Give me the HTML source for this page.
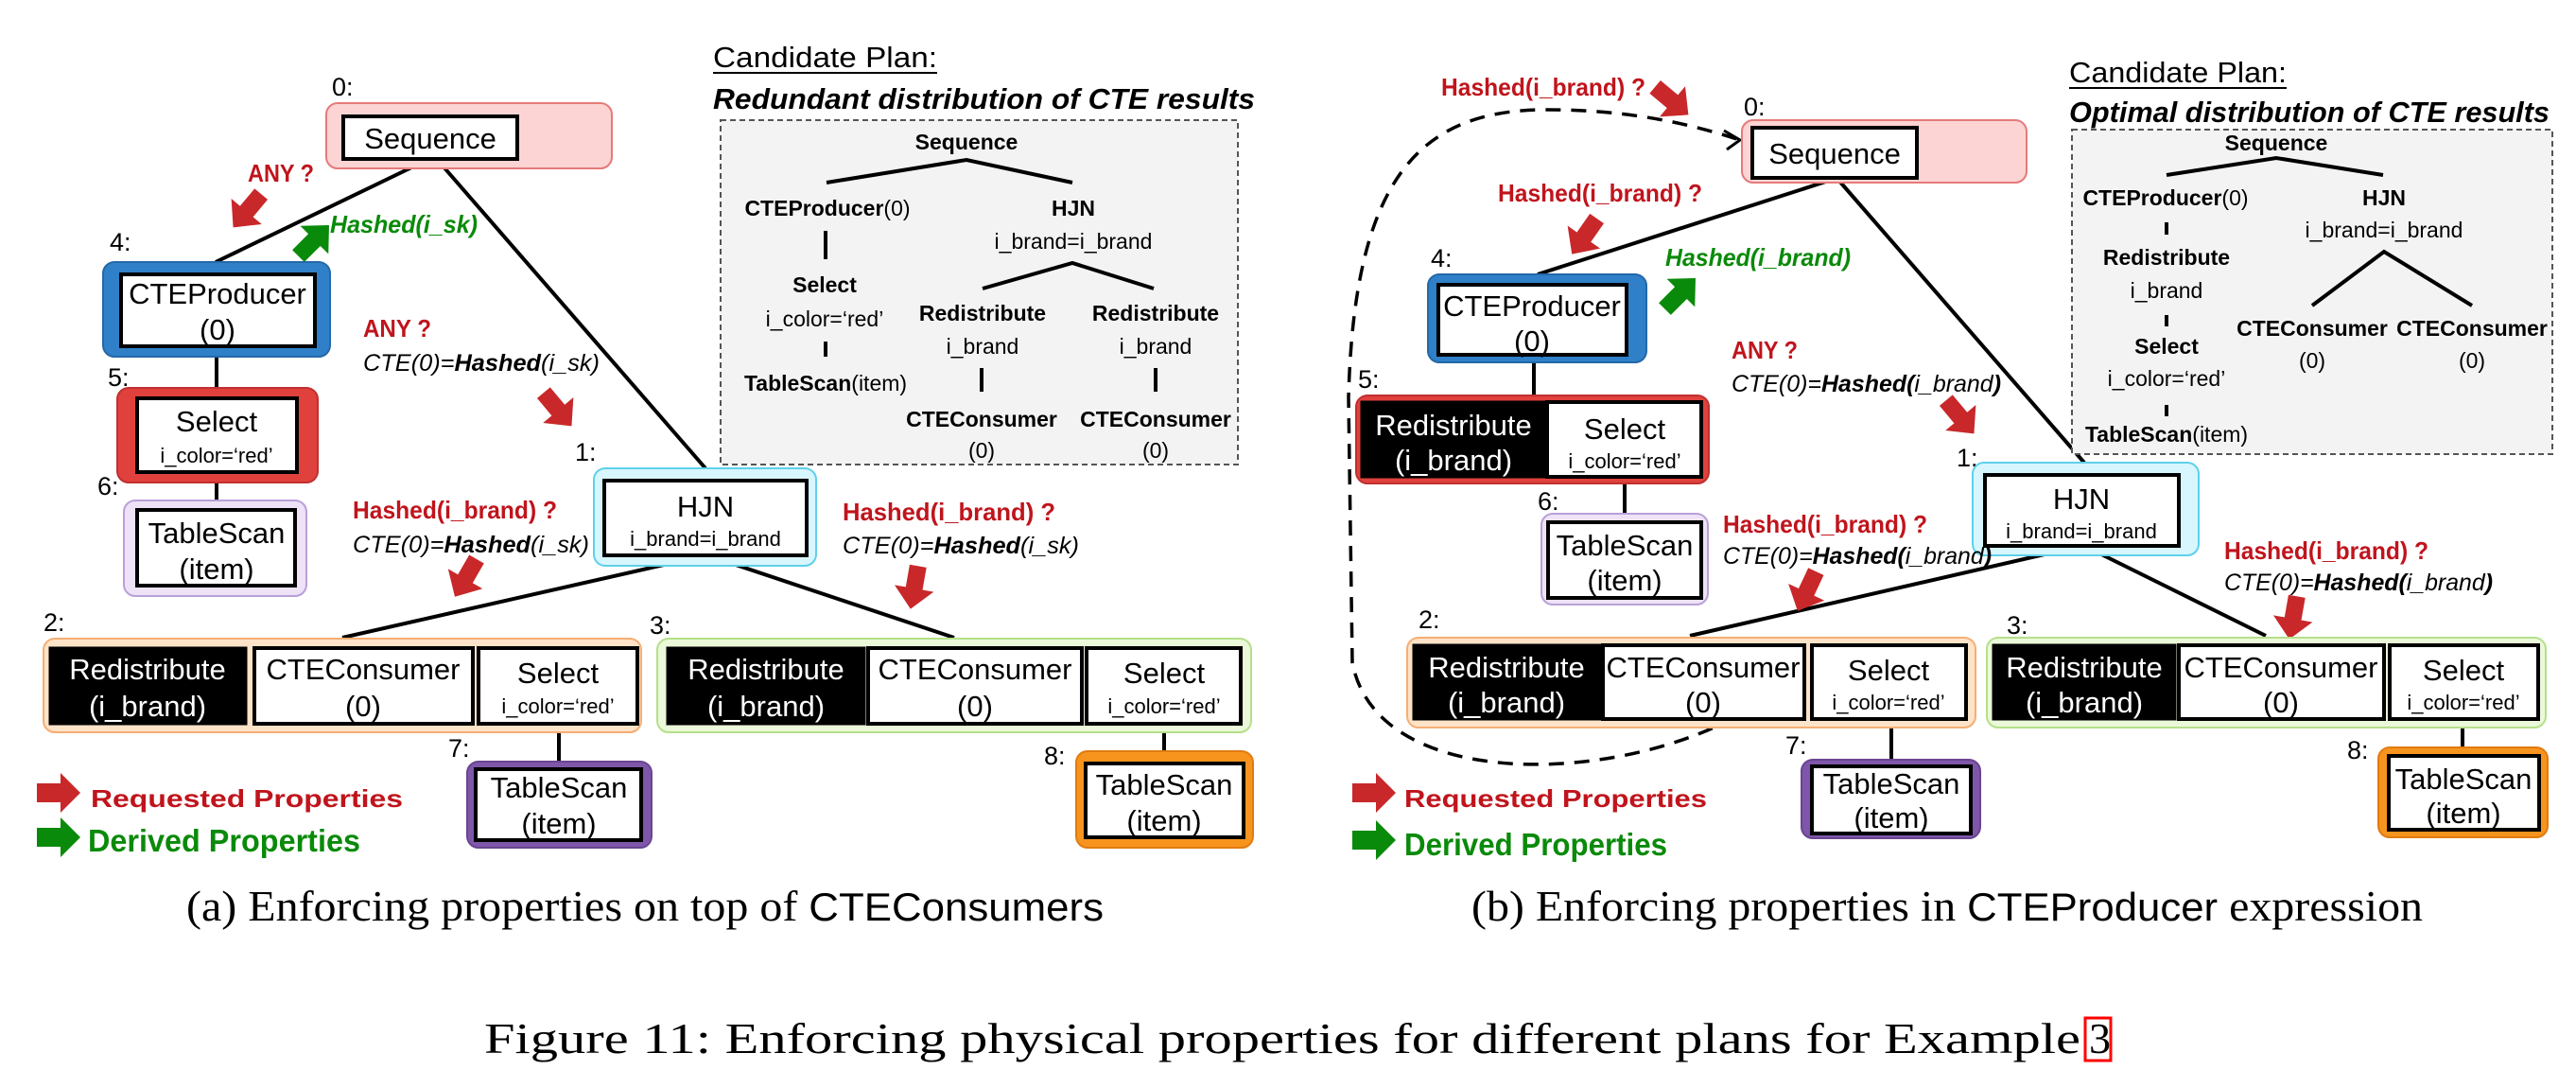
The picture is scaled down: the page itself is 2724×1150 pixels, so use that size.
<!DOCTYPE html>
<html><head><meta charset="utf-8"><style>
html,body{margin:0;padding:0;background:#fff;}
svg{display:block;}
.n{font-family:"Liberation Sans",sans-serif;font-size:31px;fill:#000;text-anchor:middle;}
.ns{font-family:"Liberation Sans",sans-serif;font-size:22px;fill:#000;text-anchor:middle;}
.w{fill:#fff;}
.lb{font-family:"Liberation Sans",sans-serif;font-size:27px;fill:#000;}
.rq{font-family:"Liberation Sans",sans-serif;font-size:26px;font-weight:bold;fill:#c0141c;}
.ct{font-family:"Liberation Sans",sans-serif;font-size:25px;font-style:italic;fill:#000;}
.gr{font-family:"Liberation Sans",sans-serif;font-size:26px;font-weight:bold;font-style:italic;fill:#0a8a0a;}
.cp{font-family:"Liberation Sans",sans-serif;font-size:23px;fill:#000;text-anchor:middle;}
.cpb{font-family:"Liberation Sans",sans-serif;font-size:23px;font-weight:bold;fill:#000;text-anchor:middle;}
.cap{font-family:"Liberation Serif",serif;font-size:46px;fill:#000;}
.ib{fill:#fff;stroke:#000;stroke-width:4;}
.bk{fill:#000;stroke:#000;stroke-width:3;}
.ln{stroke:#000;stroke-width:4;fill:none;}
</style></head><body>
<svg width="2724" height="1150" viewBox="0 0 2724 1150" xmlns="http://www.w3.org/2000/svg">
<defs>
<polygon id="arr" points="-22,-9 2,-9 2,-21 24,0 2,21 2,9 -22,9"/>
<polygon id="larr" points="-23,-10 2,-10 2,-21 23,0 2,21 2,10 -23,10"/>
</defs>

<!-- ================= PANEL A ================= -->
<line class="ln" x1="458" y1="166" x2="228" y2="277"/>
<line class="ln" x1="460" y1="166" x2="746" y2="495"/>
<line class="ln" x1="229" y1="366" x2="229" y2="410"/>
<line class="ln" x1="229" y1="499" x2="229" y2="529"/>
<line class="ln" x1="746" y1="587" x2="362" y2="674"/>
<line class="ln" x1="748" y1="587" x2="1009" y2="674"/>
<line class="ln" x1="591" y1="765" x2="591" y2="807"/>
<line class="ln" x1="1231" y1="765" x2="1231" y2="794"/>

<text class="lb" x="351" y="101">0:</text>
<rect x="345" y="109" width="302" height="69" rx="12" fill="#fcd4d4" stroke="#e57a7a" stroke-width="2"/>
<rect class="ib" x="363" y="123" width="184" height="45"/>
<text class="n" x="455" y="157">Sequence</text>

<text class="rq" x="262" y="192" textLength="70" lengthAdjust="spacingAndGlyphs">ANY ?</text>
<use href="#arr" fill="#c8282a" transform="translate(262,222) rotate(130)"/>
<text class="gr" x="349" y="246" textLength="156" lengthAdjust="spacingAndGlyphs">Hashed(i_sk)</text>
<use href="#arr" fill="#0a8a0a" transform="translate(331,255) rotate(-45)"/>

<text class="lb" x="116" y="265">4:</text>
<rect x="109" y="277" width="240" height="100" rx="12" fill="#2f80c8" stroke="#2468a8" stroke-width="2"/>
<rect class="ib" x="128" y="290" width="205" height="76"/>
<text class="n" x="230" y="321">CTEProducer</text>
<text class="n" x="230" y="359">(0)</text>

<text class="lb" x="114" y="408">5:</text>
<rect x="124" y="410" width="212" height="100" rx="12" fill="#e0413c" stroke="#c03030" stroke-width="2"/>
<rect class="ib" x="145" y="421" width="169" height="78"/>
<text class="n" x="229" y="456">Select</text>
<text class="ns" x="229" y="489">i_color=‘red’</text>

<text class="lb" x="103" y="523">6:</text>
<rect x="131" y="529" width="193" height="101" rx="12" fill="#ede2f6" stroke="#b9a0d8" stroke-width="2"/>
<rect class="ib" x="145" y="539" width="167" height="80"/>
<text class="n" x="229" y="574">TableScan</text>
<text class="n" x="229" y="612">(item)</text>

<text class="rq" x="384" y="356" textLength="72" lengthAdjust="spacingAndGlyphs">ANY ?</text>
<text class="ct" x="384" y="392" textLength="250" lengthAdjust="spacingAndGlyphs">CTE(0)=<tspan font-weight="bold">Hashed</tspan>(i_sk)</text>
<use href="#arr" fill="#c8282a" transform="translate(589,432) rotate(50)"/>

<text class="lb" x="608" y="487">1:</text>
<rect x="628" y="495" width="235" height="103" rx="12" fill="#d8f6fd" stroke="#5fd0ea" stroke-width="2"/>
<rect class="ib" x="639" y="508" width="214" height="79"/>
<text class="n" x="746" y="546">HJN</text>
<text class="ns" x="746" y="577">i_brand=i_brand</text>

<text class="rq" x="373" y="548" textLength="216" lengthAdjust="spacingAndGlyphs">Hashed(i_brand) ?</text>
<text class="ct" x="373" y="584" textLength="250" lengthAdjust="spacingAndGlyphs">CTE(0)=<tspan font-weight="bold">Hashed</tspan>(i_sk)</text>
<use href="#arr" fill="#c8282a" transform="translate(493,610) rotate(120)"/>
<text class="rq" x="891" y="550" textLength="225" lengthAdjust="spacingAndGlyphs">Hashed(i_brand) ?</text>
<text class="ct" x="891" y="585" textLength="250" lengthAdjust="spacingAndGlyphs">CTE(0)=<tspan font-weight="bold">Hashed</tspan>(i_sk)</text>
<use href="#arr" fill="#c8282a" transform="translate(967,620) rotate(100)"/>

<text class="lb" x="46" y="667">2:</text>
<rect x="46" y="675" width="632" height="99" rx="12" fill="#fde3c8" stroke="#f5ae74" stroke-width="2"/>
<rect class="bk" x="53" y="685" width="207" height="80"/>
<text class="n w" x="156" y="718">Redistribute</text>
<text class="n w" x="156" y="757">(i_brand)</text>
<rect class="ib" x="269" y="685" width="231" height="80"/>
<text class="n" x="384" y="718">CTEConsumer</text>
<text class="n" x="384" y="757">(0)</text>
<rect class="ib" x="506" y="685" width="168" height="80"/>
<text class="n" x="590" y="722">Select</text>
<text class="ns" x="590" y="754">i_color=‘red’</text>

<text class="lb" x="687" y="670">3:</text>
<rect x="695" y="675" width="628" height="99" rx="12" fill="#ebf8d9" stroke="#b4e08a" stroke-width="2"/>
<rect class="bk" x="706" y="685" width="208" height="80"/>
<text class="n w" x="810" y="718">Redistribute</text>
<text class="n w" x="810" y="757">(i_brand)</text>
<rect class="ib" x="918" y="685" width="226" height="80"/>
<text class="n" x="1031" y="718">CTEConsumer</text>
<text class="n" x="1031" y="757">(0)</text>
<rect class="ib" x="1149" y="685" width="163" height="80"/>
<text class="n" x="1231" y="722">Select</text>
<text class="ns" x="1231" y="754">i_color=‘red’</text>

<text class="lb" x="474" y="800">7:</text>
<rect x="494" y="805" width="195" height="91" rx="12" fill="#7f57aa" stroke="#6a4590" stroke-width="2"/>
<rect class="ib" x="503" y="813" width="175" height="75"/>
<text class="n" x="591" y="843">TableScan</text>
<text class="n" x="591" y="881">(item)</text>
<text class="lb" x="1104" y="808">8:</text>
<rect x="1138" y="794" width="187" height="102" rx="12" fill="#f7941d" stroke="#e07b10" stroke-width="2"/>
<rect class="ib" x="1148" y="807" width="167" height="78"/>
<text class="n" x="1231" y="840">TableScan</text>
<text class="n" x="1231" y="878">(item)</text>

<use href="#larr" fill="#c8282a" transform="translate(62,838)"/>
<text class="rq" x="96" y="853" font-size="33" textLength="330" lengthAdjust="spacingAndGlyphs">Requested Properties</text>
<use href="#larr" fill="#0a8a0a" transform="translate(62,885)"/>
<text x="93" y="900" font-family="Liberation Sans, sans-serif" font-size="33" font-weight="bold" fill="#0a8a0a" textLength="288" lengthAdjust="spacingAndGlyphs">Derived Properties</text>

<text class="cap" x="197" y="973" textLength="970" lengthAdjust="spacingAndGlyphs">(a) Enforcing properties on top of <tspan font-family="Liberation Sans, sans-serif" font-size="42">CTEConsumers</tspan></text>

<text x="754" y="71" font-family="Liberation Sans, sans-serif" font-size="31" textLength="237" lengthAdjust="spacingAndGlyphs">Candidate Plan:</text>
<line x1="754" y1="77" x2="991" y2="77" stroke="#000" stroke-width="2"/>
<text x="754" y="115" font-family="Liberation Sans, sans-serif" font-size="31" font-weight="bold" font-style="italic" textLength="573" lengthAdjust="spacingAndGlyphs">Redundant distribution of CTE results</text>
<rect x="762" y="127" width="547" height="364" fill="#f3f3f3" stroke="#555" stroke-width="2" stroke-dasharray="6,4"/>
<text class="cpb" x="1022" y="158">Sequence</text>
<polyline class="ln" points="874,193 1022,169 1134,193"/>
<text class="cp" x="875" y="228"><tspan font-weight="bold">CTEProducer</tspan>(0)</text>
<text class="cpb" x="1135" y="228">HJN</text>
<text class="cp" x="1135" y="263">i_brand=i_brand</text>
<line class="ln" x1="873" y1="244" x2="873" y2="274"/>
<text class="cpb" x="872" y="309">Select</text>
<text class="cp" x="872" y="345">i_color=‘red’</text>
<line class="ln" x1="873" y1="361" x2="873" y2="377"/>
<text class="cp" x="873" y="413"><tspan font-weight="bold">TableScan</tspan>(item)</text>
<polyline class="ln" points="1039,305 1134,278 1220,305"/>
<text class="cpb" x="1039" y="339">Redistribute</text>
<text class="cpb" x="1222" y="339">Redistribute</text>
<text class="cp" x="1039" y="374">i_brand</text>
<text class="cp" x="1222" y="374">i_brand</text>
<line class="ln" x1="1038" y1="389" x2="1038" y2="414"/>
<line class="ln" x1="1222" y1="389" x2="1222" y2="414"/>
<text class="cpb" x="1038" y="451">CTEConsumer</text>
<text class="cpb" x="1222" y="451">CTEConsumer</text>
<text class="cp" x="1038" y="484">(0)</text>
<text class="cp" x="1222" y="484">(0)</text>

<!-- ================= PANEL B ================= -->
<path d="M1835,758 C1700,830 1455,835 1430,700 L1426,420 C1432,190 1500,118 1630,116 C1730,115 1800,135 1840,148" fill="none" stroke="#000" stroke-width="3.5" stroke-dasharray="16,11"/>
<polyline points="1823,138 1840,148 1826,158" fill="none" stroke="#000" stroke-width="3"/>
<text class="rq" x="1524" y="101" textLength="216" lengthAdjust="spacingAndGlyphs">Hashed(i_brand) ?</text>
<use href="#arr" fill="#c8282a" transform="translate(1767,106) rotate(40)"/>

<line class="ln" x1="1940" y1="189" x2="1626" y2="290"/>
<line class="ln" x1="1943" y1="189" x2="2204" y2="489"/>
<line class="ln" x1="1622" y1="375" x2="1622" y2="418"/>
<line class="ln" x1="1718" y1="504" x2="1718" y2="543"/>
<line class="ln" x1="2201" y1="577" x2="1787" y2="672"/>
<line class="ln" x1="2204" y1="577" x2="2396" y2="672"/>
<line class="ln" x1="2000" y1="760" x2="2000" y2="803"/>
<line class="ln" x1="2604" y1="760" x2="2604" y2="791"/>

<text class="lb" x="1844" y="122">0:</text>
<rect x="1842" y="127" width="301" height="66" rx="12" fill="#fcd4d4" stroke="#e57a7a" stroke-width="2"/>
<rect class="ib" x="1853" y="135" width="174" height="53"/>
<text class="n" x="1940" y="173">Sequence</text>

<text class="rq" x="1584" y="213" textLength="216" lengthAdjust="spacingAndGlyphs">Hashed(i_brand) ?</text>
<use href="#arr" fill="#c8282a" transform="translate(1676,249) rotate(125)"/>
<text class="gr" x="1761" y="281" textLength="196" lengthAdjust="spacingAndGlyphs">Hashed(i_brand)</text>
<use href="#arr" fill="#0a8a0a" transform="translate(1776,311) rotate(-45)"/>

<text class="lb" x="1513" y="282">4:</text>
<rect x="1510" y="290" width="231" height="93" rx="12" fill="#2f80c8" stroke="#2468a8" stroke-width="2"/>
<rect class="ib" x="1521" y="301" width="199" height="74"/>
<text class="n" x="1620" y="334">CTEProducer</text>
<text class="n" x="1620" y="371">(0)</text>

<text class="lb" x="1436" y="410">5:</text>
<rect x="1434" y="418" width="373" height="93" rx="12" fill="#e0413c" stroke="#c03030" stroke-width="2"/>
<rect class="bk" x="1440" y="425" width="193" height="79"/>
<text class="n w" x="1537" y="460">Redistribute</text>
<text class="n w" x="1537" y="497">(i_brand)</text>
<rect class="ib" x="1636" y="425" width="163" height="79"/>
<text class="n" x="1718" y="464">Select</text>
<text class="ns" x="1718" y="495">i_color=‘red’</text>

<text class="lb" x="1626" y="539">6:</text>
<rect x="1630" y="543" width="176" height="96" rx="12" fill="#ede2f6" stroke="#b9a0d8" stroke-width="2"/>
<rect class="ib" x="1637" y="552" width="162" height="80"/>
<text class="n" x="1718" y="587">TableScan</text>
<text class="n" x="1718" y="624">(item)</text>

<text class="rq" x="1831" y="379" textLength="70" lengthAdjust="spacingAndGlyphs">ANY ?</text>
<text class="ct" x="1831" y="414" textLength="285" lengthAdjust="spacingAndGlyphs">CTE(0)=<tspan font-weight="bold">Hashed(</tspan>i_brand<tspan font-weight="bold">)</tspan></text>
<use href="#arr" fill="#c8282a" transform="translate(2072,440) rotate(50)"/>

<text class="lb" x="2069" y="493">1:</text>
<rect x="2086" y="489" width="239" height="98" rx="12" fill="#d8f6fd" stroke="#5fd0ea" stroke-width="2"/>
<rect class="ib" x="2099" y="502" width="205" height="75"/>
<text class="n" x="2201" y="538">HJN</text>
<text class="ns" x="2201" y="569">i_brand=i_brand</text>

<text class="rq" x="1822" y="563" textLength="216" lengthAdjust="spacingAndGlyphs">Hashed(i_brand) ?</text>
<text class="ct" x="1822" y="596" textLength="284" lengthAdjust="spacingAndGlyphs">CTE(0)=<tspan font-weight="bold">Hashed(</tspan>i_brand<tspan font-weight="bold">)</tspan></text>
<use href="#arr" fill="#c8282a" transform="translate(1911,624) rotate(115)"/>
<text class="rq" x="2352" y="591" textLength="216" lengthAdjust="spacingAndGlyphs">Hashed(i_brand) ?</text>
<text class="ct" x="2352" y="624" textLength="284" lengthAdjust="spacingAndGlyphs">CTE(0)=<tspan font-weight="bold">Hashed(</tspan>i_brand<tspan font-weight="bold">)</tspan></text>
<use href="#arr" fill="#c8282a" transform="translate(2425,652) rotate(100)"/>

<text class="lb" x="1500" y="664">2:</text>
<rect x="1488" y="674" width="601" height="95" rx="12" fill="#fde3c8" stroke="#f5ae74" stroke-width="2"/>
<rect class="bk" x="1495" y="682" width="197" height="78"/>
<text class="n w" x="1593" y="716">Redistribute</text>
<text class="n w" x="1593" y="753">(i_brand)</text>
<rect class="ib" x="1695" y="682" width="213" height="78"/>
<text class="n" x="1801" y="716">CTEConsumer</text>
<text class="n" x="1801" y="753">(0)</text>
<rect class="ib" x="1916" y="682" width="163" height="78"/>
<text class="n" x="1997" y="719">Select</text>
<text class="ns" x="1997" y="750">i_color=‘red’</text>

<text class="lb" x="2122" y="670">3:</text>
<rect x="2101" y="674" width="591" height="95" rx="12" fill="#ebf8d9" stroke="#b4e08a" stroke-width="2"/>
<rect class="bk" x="2108" y="682" width="192" height="78"/>
<text class="n w" x="2204" y="716">Redistribute</text>
<text class="n w" x="2204" y="753">(i_brand)</text>
<rect class="ib" x="2304" y="682" width="217" height="78"/>
<text class="n" x="2412" y="716">CTEConsumer</text>
<text class="n" x="2412" y="753">(0)</text>
<rect class="ib" x="2527" y="682" width="157" height="78"/>
<text class="n" x="2605" y="719">Select</text>
<text class="ns" x="2605" y="750">i_color=‘red’</text>

<text class="lb" x="1888" y="797">7:</text>
<rect x="1905" y="803" width="189" height="83" rx="12" fill="#7f57aa" stroke="#6a4590" stroke-width="2"/>
<rect class="ib" x="1916" y="810" width="168" height="71"/>
<text class="n" x="2000" y="839">TableScan</text>
<text class="n" x="2000" y="875">(item)</text>
<text class="lb" x="2482" y="802">8:</text>
<rect x="2515" y="790" width="179" height="95" rx="12" fill="#f7941d" stroke="#e07b10" stroke-width="2"/>
<rect class="ib" x="2526" y="799" width="159" height="78"/>
<text class="n" x="2605" y="834">TableScan</text>
<text class="n" x="2605" y="870">(item)</text>

<use href="#larr" fill="#c8282a" transform="translate(1453,838)"/>
<text class="rq" x="1485" y="853" font-size="33" textLength="320" lengthAdjust="spacingAndGlyphs">Requested Properties</text>
<use href="#larr" fill="#0a8a0a" transform="translate(1453,888)"/>
<text x="1485" y="904" font-family="Liberation Sans, sans-serif" font-size="33" font-weight="bold" fill="#0a8a0a" textLength="278" lengthAdjust="spacingAndGlyphs">Derived Properties</text>

<text class="cap" x="1556" y="973" textLength="1006" lengthAdjust="spacingAndGlyphs">(b) Enforcing properties in <tspan font-family="Liberation Sans, sans-serif" font-size="42">CTEProducer</tspan> expression</text>

<text x="2188" y="87" font-family="Liberation Sans, sans-serif" font-size="31" textLength="230" lengthAdjust="spacingAndGlyphs">Candidate Plan:</text>
<line x1="2188" y1="93" x2="2418" y2="93" stroke="#000" stroke-width="2"/>
<text x="2188" y="129" font-family="Liberation Sans, sans-serif" font-size="31" font-weight="bold" font-style="italic" textLength="508" lengthAdjust="spacingAndGlyphs">Optimal distribution of CTE results</text>
<rect x="2191" y="137" width="508" height="343" fill="#f3f3f3" stroke="#555" stroke-width="2" stroke-dasharray="6,4"/>
<text class="cpb" x="2407" y="159">Sequence</text>
<polyline class="ln" points="2291,185 2407,167 2520,185"/>
<text class="cp" x="2290" y="217"><tspan font-weight="bold">CTEProducer</tspan>(0)</text>
<text class="cpb" x="2521" y="217">HJN</text>
<text class="cp" x="2521" y="251">i_brand=i_brand</text>
<line class="ln" x1="2291" y1="235" x2="2291" y2="248"/>
<text class="cpb" x="2291" y="280">Redistribute</text>
<text class="cp" x="2291" y="315">i_brand</text>
<line class="ln" x1="2291" y1="333" x2="2291" y2="345"/>
<text class="cpb" x="2291" y="374">Select</text>
<text class="cp" x="2291" y="408">i_color=‘red’</text>
<line class="ln" x1="2291" y1="428" x2="2291" y2="440"/>
<text class="cp" x="2291" y="467"><tspan font-weight="bold">TableScan</tspan>(item)</text>
<polyline class="ln" points="2445,323 2521,266 2614,323"/>
<text class="cpb" x="2445" y="355">CTEConsumer</text>
<text class="cpb" x="2614" y="355">CTEConsumer</text>
<text class="cp" x="2445" y="389">(0)</text>
<text class="cp" x="2614" y="389">(0)</text>

<text class="cap" x="512" y="1113" font-size="48" textLength="1688" lengthAdjust="spacingAndGlyphs">Figure 11: Enforcing physical properties for different plans for Example</text>
<text class="cap" x="2209" y="1113" font-size="48">3</text>
<rect x="2205" y="1076" width="27" height="45" fill="none" stroke="#ff0000" stroke-width="3"/>
</svg>
</body></html>
